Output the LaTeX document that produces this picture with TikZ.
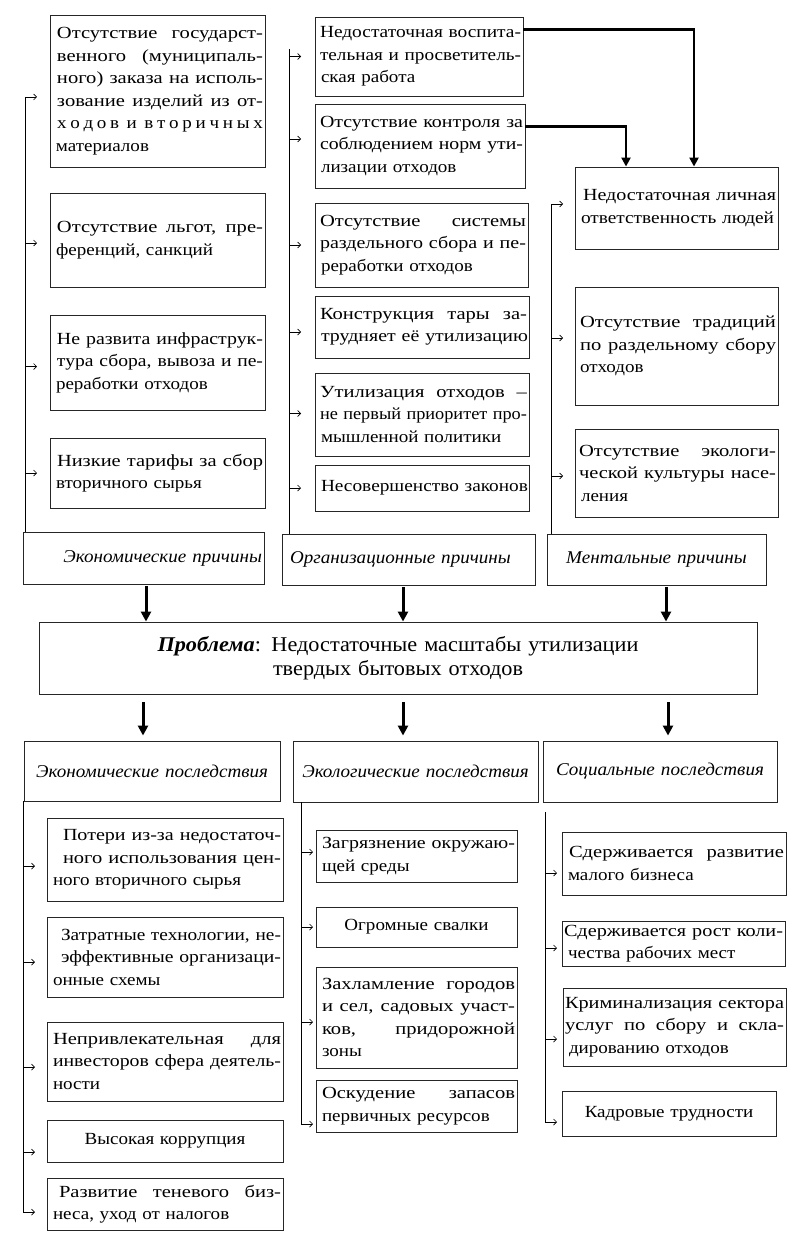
\documentclass[tikz,border=0pt]{standalone}
\usepackage{graphicx}
\usepackage{fontspec}
\setmainfont{Liberation Serif}[FakeStretch=1.06]
\newfontfamily\bfnt{Liberation Serif}[FakeStretch=1.12]
\usetikzlibrary{arrows.meta,calc}
\newlength\jw
\newlength\jwfull
\newlength\tmpl
\newsavebox\jlbox
\newcommand\fitline[1]{\sbox\jlbox{#1}\setlength\tmpl{\wd\jlbox}%
  \pgfmathsetmacro\jf{min(\jw/\tmpl,1.08)}\pgfmathsetmacro\jin{\jw/\jf}%
  \scalebox{\jf}[1]{\makebox[\jin pt][s]{\spaceskip=0.25em plus 1fil\xspaceskip=0.25em plus 1fil\relax #1}}}
\newcommand\jl[1]{\fitline{#1}\\}
\newcommand\nl[1]{\sbox\jlbox{#1}\ifdim\wd\jlbox>\jw\resizebox{\jw}{\height}{\usebox\jlbox}\else\usebox\jlbox\fi}
\newcommand\pad[1]{\setlength\leftskip{#1pt}\setlength\jw{\jwfull}\addtolength\jw{-#1pt}}
\newcommand\BX[7]{%
  \pgfmathsetmacro\bw{#5-#3}\pgfmathsetmacro\bh{#6-#4}\pgfmathsetmacro\tw{#5-#3-4}%
  \pgfmathsetmacro\jwv{#5-#3-8}\setlength\jw{\jwv pt}\setlength\jwfull{\tw pt}%
  \node[#1, minimum width=\bw pt, minimum height=\bh pt, text width=\tw pt] (#2) at ({(#3+#5)/2},{(#4+#6)/2}) {#7};}
\newcommand\sa[3]{\draw[sarr] ($(#2.west -| #1)+(0,#3)$) -- ++(12,0);}
\tikzset{
  bx/.style={draw=black!85, line width=0.9pt, inner xsep=2pt, inner ysep=1pt, align=left,
    font=\bfnt\fontsize{17}{22.5}\selectfont,
    execute at begin node={\setlength\parindent{0pt}\setlength\leftskip{4pt}}},
  bxc/.style={draw=black!85, line width=0.9pt, inner xsep=2pt, inner ysep=1pt, align=center,
    font=\bfnt\fontsize{17}{22.5}\selectfont},
  lbl/.style={draw=black!85, line width=0.9pt, inner xsep=2pt, align=center, font=\fontsize{18}{20}\selectfont\itshape},
  prob/.style={draw=black!85, line width=0.9pt, inner xsep=2pt, align=center, font=\fontsize{21}{24.5}\selectfont},
  trunk/.style={line width=0.8pt},
  sarr/.style={line width=0.7pt, -{Straight Barb[length=3pt,width=6pt]}},
  big/.style={line width=3pt, -{Triangle[length=10pt,width=10pt]}},
  elbow/.style={line width=2.4pt, -{Triangle[length=9pt,width=9pt]}}
}
\begin{document}
\begin{tikzpicture}[x=1pt,y=-1pt]
\useasboundingbox (0,0) rectangle (791,1236);
% ---------- economic causes
\BX{bx}{E1}{50}{15}{265}{167}{\pad{5}\jl{Отсутствие государст-}\jl{венного (муниципаль-}\jl{ного) заказа на исполь-}\jl{зование изделий из от-}\makebox[\jw][s]{х\hfill о\hfill д\hfill о\hfill в\hfill\hfill и\hfill\hfill в\hfill т\hfill о\hfill р\hfill и\hfill ч\hfill н\hfill ы\hfill х}\\материалов}
\BX{bx}{E2}{50}{193}{265}{287}{\pad{5}\jl{Отсутствие льгот, пре-}\nl{ференций, санкций}}
\BX{bx}{E3}{50}{315}{265}{410}{\pad{5}\jl{Не развита инфраструк-}\jl{тура сбора, вывоза и пе-}\nl{реработки отходов}}
\BX{bx}{E4}{50}{438}{265}{508}{\pad{5}\jl{Низкие тарифы за сбор}\nl{вторичного сырья}}
\BX{lbl,align=right}{lE}{23}{532}{264}{584}{Экономические причины\hspace*{8pt}}
% ---------- organisational causes
\BX{bx}{A}{315}{17}{523}{96}{\pad{3}\jl{Недостаточная воспита-}\jl{тельная и просветитель-}\nl{ская работа}}
\BX{bx}{B}{315}{104}{525}{188}{\pad{3}\jl{Отсутствие контроля за}\jl{соблюдением норм ути-}\nl{лизации отходов}}
\BX{bx}{C}{315}{203}{528}{287}{\pad{3}\jl{Отсутствие системы}\jl{раздельного сбора и пе-}\nl{реработки отходов}}
\BX{bx}{D}{315}{296}{529}{358}{\pad{3}\jl{Конструкция тары за-}\fitline{трудняет её утилизацию}}
\BX{bx}{Ee}{315}{373}{529}{456}{\pad{3}\jl{Утилизация отходов –}\jl{не первый приоритет про-}\nl{мышленной политики}}
\BX{bx}{F}{315}{465}{529}{511}{\pad{3}\fitline{Несовершенство законов}}
\BX{lbl,align=left}{lO}{282}{534}{535}{585}{\hspace*{6pt}Организационные причины}
% ---------- mental causes
\BX{bx}{M1}{575}{167}{778}{249}{\pad{6}\jl{Недостаточная личная}\fitline{ответственность людей}}
\BX{bx}{M2}{575}{287}{778}{405}{\pad{3}\jl{Отсутствие традиций}\jl{по раздельному сбору}\nl{отходов}\\[12pt]}
\BX{bx}{M3}{575}{429}{778}{517}{\pad{2}\jl{Отсутствие экологи-}\jl{ческой культуры насе-}\nl{ления}}
\BX{lbl}{lM}{547}{534}{766}{585}{Ментальные причины\hspace*{-10pt}}
% ---------- problem
\BX{prob}{P}{39}{622}{757}{694}{\textbf{\textit{Проблема}}: Недостаточные масштабы утилизации\hspace*{12pt}\\твердых бытовых отходов\hspace*{12pt}}
% ---------- consequence headers
\BX{lbl}{hE}{24}{741}{280}{801}{Экономические последствия}
\BX{lbl}{hC}{293}{741}{538}{802}{Экологические последствия\hspace*{8pt}}
\BX{lbl}{hS}{543}{741}{777}{802}{Социальные последствия\hspace*{10pt}}
% ---------- economic consequences
\BX{bx}{B1}{47}{818}{283}{901}{\pad{14}\jl{Потери из-за недостаточ-}\jl{ного использования цен-}\nl{ного вторичного сырья}}
\BX{bx}{B2}{47}{917}{283}{997}{\pad{12}\jl{Затратные технологии, не-}\jl{эффективные организаци-}\nl{онные схемы}}
\BX{bx}{B3}{47}{1022}{283}{1101}{\pad{4}\jl{Непривлекательная для}\jl{инвесторов сфера деятель-}\nl{ности}}
\BX{bxc}{B4}{47}{1120}{283}{1162}{Высокая коррупция\hspace*{20pt}}
\BX{bx}{B5}{47}{1178}{283}{1230}{\pad{10}\jl{Развитие теневого биз-}\nl{неса, уход от налогов}}
% ---------- ecological consequences
\BX{bx}{C1}{316}{830}{517}{882}{\jl{Загрязнение окружаю-}\nl{щей среды}}
\BX{bxc}{C2}{316}{907}{517}{947}{Огромные свалки\hspace*{14pt}}
\BX{bx}{C3}{316}{967}{517}{1068}{\jl{Захламление городов}\jl{и сел, садовых участ-}\jl{ков, придорожной}\nl{зоны}}
\BX{bx}{C4}{316}{1080}{517}{1132}{\jl{Оскудение запасов}\nl{первичных ресурсов}}
% ---------- social consequences
\BX{bx}{D1}{562}{832}{786}{895}{\pad{5}\jl{Сдерживается развитие}\nl{малого бизнеса}}
\BX{bx}{D2}{562}{921}{785}{966}{\pad{0}\jl{Сдерживается рост коли-}\nl{чества рабочих мест}}
\BX{bx}{D3}{563}{988}{786}{1066}{\pad{0}\jl{Криминализация сектора}\jl{услуг по сбору и скла-}\nl{дированию отходов}}
\BX{bxc}{D4}{562}{1091}{776}{1136}{Кадровые трудности\hspace*{10pt}}
% ---------- trunk coordinates
\coordinate (tE) at (25,0);
\coordinate (tO) at (289,0);
\coordinate (tM) at (551,0);
\coordinate (tBE) at (23,0);
\coordinate (tBC) at (301,0);
\coordinate (tBS) at (545,0);
% economic causes trunk
\draw[trunk] ($(E1.west -| tE)+(0,6)$) -- (tE |- lE.north);
\sa{tE}{E1}{6}\sa{tE}{E2}{3}\sa{tE}{E3}{4}\sa{tE}{E4}{0}
% organisational trunk
\draw[trunk] ($(A.west -| tO)+(0,-7)$) -- (tO |- lO.north);
\sa{tO}{A}{0}\sa{tO}{B}{-7}\sa{tO}{C}{0}\sa{tO}{D}{5}\sa{tO}{Ee}{-1}\sa{tO}{F}{0}
% mental trunk
\draw[trunk] ($(M1.west -| tM)+(0,-4)$) -- (tM |- lM.north);
\sa{tM}{M1}{-4}\sa{tM}{M2}{-8}\sa{tM}{M3}{3}
% economic consequences trunk
\draw[trunk] (tBE |- hE.south) -- ($(B5.west -| tBE)+(0,8)$);
\sa{tBE}{B1}{6.5}\sa{tBE}{B2}{5}\sa{tBE}{B3}{5.5}\sa{tBE}{B4}{11}\sa{tBE}{B5}{8}
% ecological consequences trunk
\draw[trunk] (tBC |- hC.south) -- ($(C4.west -| tBC)+(0,18)$);
\sa{tBC}{C1}{-4}\sa{tBC}{C2}{0}\sa{tBC}{C3}{4.5}\sa{tBC}{C4}{18}
% social consequences trunk
\draw[trunk] ($(hS.south -| tBS)+(0,10)$) -- ($(D4.west -| tBS)+(0,8.5)$);
\sa{tBS}{D1}{9.5}\sa{tBS}{D2}{4.5}\sa{tBS}{D3}{12}\sa{tBS}{D4}{8.5}
% bold elbow connectors
\draw[elbow] ($(A.north east)+(0,13)$) -| ($(M1.north)+(17.5,0)$);
\draw[elbow] ($(B.north east)+(0,23)$) -| ($(M1.north)+(-50.5,0)$);
% big arrows to and from the problem
\draw[big] ($(lE.south)+(2.5,2)$) -- ($(lE.south |- P.north)+(2.5,0)$);
\draw[big] ($(lO.south)+(-5.5,2)$) -- ($(lO.south |- P.north)+(-5.5,0)$);
\draw[big] ($(lM.south)+(9.5,2)$) -- ($(lM.south |- P.north)+(9.5,0)$);
\draw[big] ($(P.south -| hE.north)+(-9,8)$) -- ($(hE.north)+(-9,-5)$);
\draw[big] ($(P.south -| hC.north)+(-12.5,8)$) -- ($(hC.north)+(-12.5,-5)$);
\draw[big] ($(P.south -| hS.north)+(8,8)$) -- ($(hS.north)+(8,-5)$);
\end{tikzpicture}
\end{document}
